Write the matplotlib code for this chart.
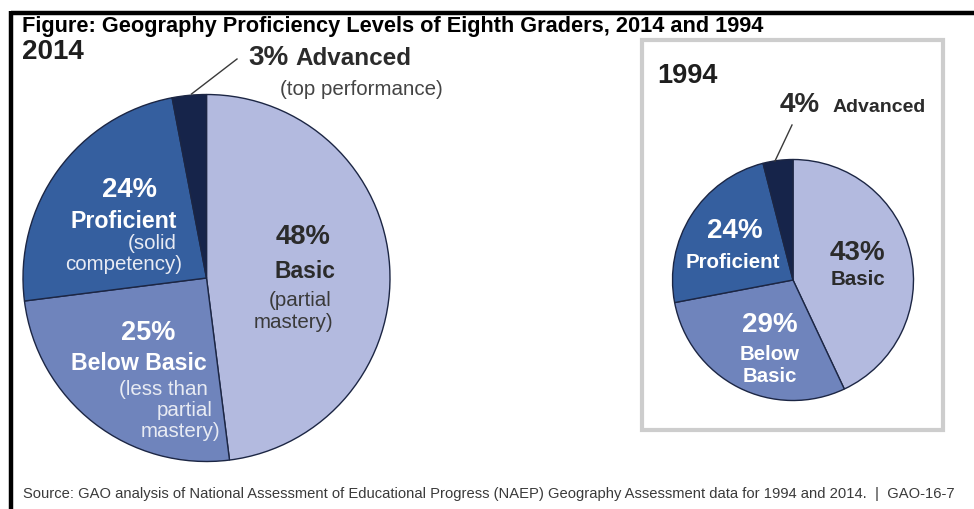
import matplotlib
matplotlib.use("Agg")
import matplotlib.pyplot as plt
from matplotlib.patches import Rectangle
from matplotlib.lines import Line2D

W, H = 974, 509

title = "Figure: Geography Proficiency Levels of Eighth Graders, 2014 and 1994"
source = ("Source: GAO analysis of National Assessment of Educational Progress (NAEP) "
          "Geography Assessment data for 1994 and 2014.  |  GAO-16-7")

levels = ["Basic", "Below Basic", "Proficient", "Advanced"]
share_2014 = [48, 25, 24, 3]
share_1994 = [43, 29, 24, 4]
level_colors = ["#b3badf", "#6f84bc", "#355f9f", "#16244a"]

FONT = ["Liberation Sans", "DejaVu Sans"]
plt.rcParams["font.family"] = FONT

fig = plt.figure(figsize=(W / 100, H / 100), dpi=100)
fig.patch.set_facecolor("white")
ax = fig.add_axes([0, 0, 1, 1])


def txt(x, y, s, size, weight="normal", color="#2b2b2b", ha="left"):
    """Place text with its baseline at pixel row y (measured from the top)."""
    ax.text(x, H - y, s, fontsize=size, fontweight=weight, color=color,
            ha=ha, va="baseline")


wedge_style = dict(edgecolor="#1c2644", linewidth=1.0)

# 2014 pie
ax.pie(share_2014, colors=level_colors, startangle=90, counterclock=False,
       center=(206.5, H - 278), radius=183.5, wedgeprops=wedge_style)
# 1994 pie
ax.pie(share_1994, colors=level_colors, startangle=90, counterclock=False,
       center=(793, H - 280), radius=120.5, wedgeprops=wedge_style)

ax.set_xlim(0, W)
ax.set_ylim(0, H)
ax.set_aspect("equal")
ax.axis("off")

# frame lines along the top and left edge
ax.add_line(Line2D([11, W], [H - 12.5, H - 12.5], color="black", lw=3.2,
                   solid_capstyle="butt"))
ax.add_line(Line2D([11, 11], [H - 11, 0], color="black", lw=3.2,
                   solid_capstyle="butt"))

# light grey box around the 1994 panel
ax.add_patch(Rectangle((641.5, H - 430), 301.5, 390, fill=False,
                       edgecolor="#cdcdcd", linewidth=3.0))

# headings
txt(22, 31.5, title, 15.7, "bold", "black")
txt(22, 59, "2014", 20, "bold", "#1e1e1e")
txt(657, 83, "1994", 19.5, "bold", "#1e1e1e")

# 2014 labels
b, bb, p, a = share_2014
ax.add_line(Line2D([191.5, 237], [H - 94, H - 59], color="#3a3a3a", lw=1.0))
txt(248, 65, f"{a}%", 20, "bold", "#2b2b2b")
txt(295, 65, "Advanced", 17.5, "bold", "#2b2b2b")
txt(280, 95, "(top performance)", 14.8, "normal", "#444444")

txt(129.5, 197, f"{p}%", 19.8, "bold", "white", ha="center")
txt(123.5, 228, "Proficient", 16.7, "bold", "white", ha="center")
txt(177, 249, "(solid", 14.8, "normal", "#e8ebf3", ha="right")
txt(182, 270, "competency)", 14.8, "normal", "#e8ebf3", ha="right")

txt(303.5, 244, f"{b}%", 19.8, "bold", "#2b2b2b", ha="center")
txt(305, 278, "Basic", 16.5, "bold", "#2b2b2b", ha="center")
txt(332, 306, "(partial", 14.8, "normal", "#3a3a3a", ha="right")
txt(333, 328, "mastery)", 14.8, "normal", "#3a3a3a", ha="right")

txt(148, 340, f"{bb}%", 19.5, "bold", "white", ha="center")
txt(138.5, 370, "Below Basic", 16.7, "bold", "white", ha="center")
txt(208, 395, "(less than", 14.8, "normal", "#e8ebf3", ha="right")
txt(213, 416, "partial", 14.8, "normal", "#e8ebf3", ha="right")
txt(220, 437, "mastery)", 14.8, "normal", "#e8ebf3", ha="right")

# 1994 labels
b, bb, p, a = share_1994
ax.add_line(Line2D([775, 792], [H - 161, H - 125], color="#3a3a3a", lw=1.0))
txt(780, 112, f"{a}%", 20, "bold", "#2b2b2b")
txt(833, 112, "Advanced", 14, "bold", "#2b2b2b")

txt(735, 238, f"{p}%", 20, "bold", "white", ha="center")
txt(732.5, 268, "Proficient", 14.8, "bold", "white", ha="center")
txt(857.5, 260, f"{b}%", 20, "bold", "#2b2b2b", ha="center")
txt(857.5, 285, "Basic", 14.8, "bold", "#2b2b2b", ha="center")
txt(769.5, 332, f"{bb}%", 20, "bold", "white", ha="center")
txt(770, 360, "Below", 14.7, "bold", "white", ha="center")
txt(770, 382, "Basic", 14.7, "bold", "white", ha="center")

# source note
txt(23, 498, source, 10.65, "normal", "#3a3a3a")

fig.savefig("out.png", dpi=100, facecolor="white")
